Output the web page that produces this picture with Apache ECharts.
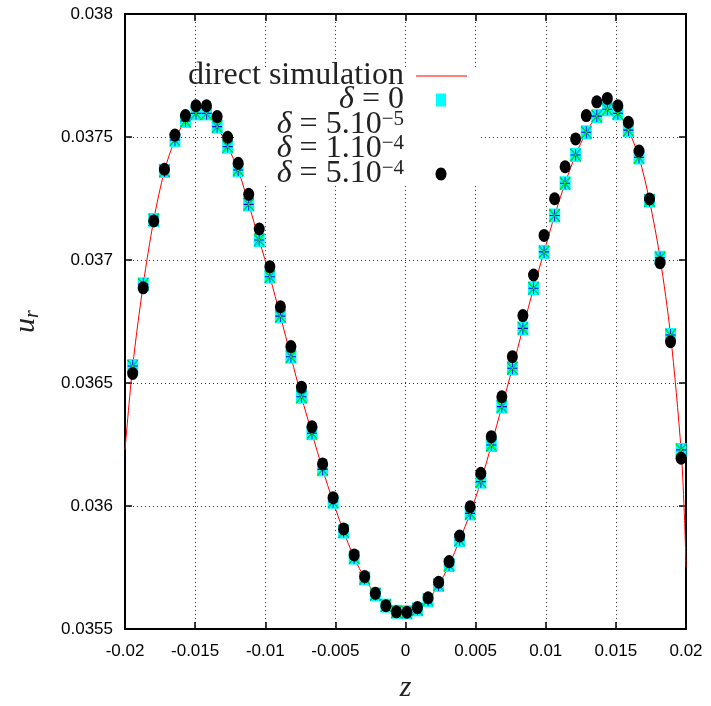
<!DOCTYPE html>
<html>
<head>
<meta charset="utf-8">
<script src="https://cdn.jsdelivr.net/npm/echarts@6/dist/echarts.min.js"></script>
<style>
  html, body { margin: 0; padding: 0; background: #fff; }
  #chart { width: 711px; height: 706px; }
</style>
</head>
<body>
<div id="chart"></div>
<script>
// Axial positions of the sampled points
const z = [-0.01945, -0.01870, -0.01795, -0.01719, -0.01644, -0.01569, -0.01494, -0.01419, -0.01343, -0.01268,
  -0.01193, -0.01118, -0.01043, -0.00967, -0.00892, -0.00817, -0.00742, -0.00667, -0.00591, -0.00516,
  -0.00441, -0.00366, -0.00291, -0.00215, -0.00140, -0.00065, 0.00010, 0.00085, 0.00161, 0.00236,
  0.00311, 0.00386, 0.00461, 0.00537, 0.00612, 0.00687, 0.00762, 0.00837, 0.00913, 0.00988,
  0.01063, 0.01138, 0.01213, 0.01289, 0.01364, 0.01439, 0.01514, 0.01589, 0.01665, 0.01740,
  0.01815, 0.01890, 0.01965];

// u_r for delta = 0
const delta0 = [0.036569, 0.036901, 0.037163, 0.037362, 0.037488, 0.037565, 0.037596, 0.037596, 0.037542, 0.037461,
  0.037366, 0.037226, 0.037081, 0.036932, 0.036772, 0.036607, 0.036444, 0.036296, 0.036149, 0.036017,
  0.035896, 0.035790, 0.035706, 0.035641, 0.035595, 0.035570, 0.035568, 0.035580, 0.035618, 0.035679,
  0.035760, 0.035862, 0.035970, 0.036099, 0.036248, 0.036404, 0.036560, 0.036722, 0.036885, 0.037033,
  0.037181, 0.037312, 0.037427, 0.037519, 0.037585, 0.037613, 0.037596, 0.037528, 0.037417, 0.037241,
  0.037009, 0.036695, 0.036228];

// u_r for delta = 5e-5
const delta5e5 = [0.036569, 0.036901, 0.037163, 0.037362, 0.037488, 0.037565, 0.037596, 0.037596, 0.037542, 0.037461,
  0.037366, 0.037226, 0.037081, 0.036932, 0.036772, 0.036607, 0.036444, 0.036296, 0.036149, 0.036017,
  0.035896, 0.035790, 0.035706, 0.035641, 0.035595, 0.035570, 0.035568, 0.035580, 0.035618, 0.035679,
  0.035760, 0.035862, 0.035970, 0.036099, 0.036248, 0.036404, 0.036560, 0.036722, 0.036885, 0.037033,
  0.037181, 0.037312, 0.037427, 0.037519, 0.037585, 0.037613, 0.037596, 0.037528, 0.037417, 0.037241,
  0.037009, 0.036695, 0.036228];

// u_r for delta = 1e-4
const delta1e4 = [0.036569, 0.036901, 0.037163, 0.037362, 0.037488, 0.037565, 0.037596, 0.037596, 0.037542, 0.037461,
  0.037366, 0.037226, 0.037081, 0.036932, 0.036772, 0.036607, 0.036444, 0.036296, 0.036149, 0.036017,
  0.035896, 0.035790, 0.035706, 0.035641, 0.035595, 0.035570, 0.035568, 0.035580, 0.035618, 0.035679,
  0.035760, 0.035862, 0.035970, 0.036099, 0.036248, 0.036404, 0.036560, 0.036722, 0.036885, 0.037033,
  0.037181, 0.037312, 0.037427, 0.037519, 0.037585, 0.037613, 0.037596, 0.037528, 0.037417, 0.037241,
  0.037009, 0.036695, 0.036228];

// u_r for delta = 5e-4
const delta5e4 = [0.036539, 0.036887, 0.037159, 0.037369, 0.037508, 0.037587, 0.037627, 0.037627, 0.037583, 0.037499,
  0.037393, 0.037267, 0.037126, 0.036973, 0.036810, 0.036648, 0.036483, 0.036322, 0.036171, 0.036034,
  0.035907, 0.035801, 0.035713, 0.035645, 0.035595, 0.035570, 0.035568, 0.035587, 0.035627, 0.035690,
  0.035774, 0.035878, 0.035997, 0.036133, 0.036282, 0.036444, 0.036607, 0.036774, 0.036939, 0.037100,
  0.037249, 0.037379, 0.037492, 0.037587, 0.037643, 0.037657, 0.037627, 0.037560, 0.037443, 0.037248,
  0.036989, 0.036668, 0.036194];

// Direct simulation curve (sample positions include both walls)
const directZ = [-0.02, ...z, 0.0199, 0.02];
const directU = [0.036228,
  0.036569, 0.036901, 0.037163, 0.037362, 0.037488, 0.037565, 0.037596, 0.037596, 0.037542, 0.037461,
  0.037366, 0.037226, 0.037081, 0.036932, 0.036772, 0.036607, 0.036444, 0.036296, 0.036149, 0.036017,
  0.035896, 0.035790, 0.035706, 0.035641, 0.035595, 0.035570, 0.035568, 0.035580, 0.035618, 0.035679,
  0.035760, 0.035862, 0.035970, 0.036099, 0.036248, 0.036404, 0.036560, 0.036722, 0.036885, 0.037033,
  0.037181, 0.037312, 0.037427, 0.037519, 0.037585, 0.037613, 0.037596, 0.037528, 0.037417, 0.037241,
  0.037009, 0.036695, 0.036228,
  0.035940, 0.035750];

// Tick labels
const xTickLabels = ['-0.02', '-0.015', '-0.01', '-0.005', '0', '0.005', '0.01', '0.015', '0.02'];
const yTickLabels = ['0.0355', '0.036', '0.0365', '0.037', '0.0375', '0.038'];

const pair = (xs, ys) => xs.map((x, i) => [x, ys[i]]);

const STAR = 'path://M0,6L10,6M5,0L5,12M0,0L10,12M10,0L0,12';
const CROSS = 'path://M0,0L10,12M10,0L0,12';

const tickFont = { fontFamily: 'Liberation Sans', fontSize: 17, color: '#000' };
const frameLine = { show: true, onZero: false, lineStyle: { color: '#000', width: 2 } };
const innerTick = { show: true, inside: true, length: 7, lineStyle: { color: '#000', width: 1.5 } };
const dotted = { show: true, lineStyle: { color: '#333', type: [1, 3], width: 1 } };

const serif = 'Liberation Serif';
const legendRich = {
  i: { fontFamily: serif, fontStyle: 'italic', fontSize: 32, fill: '#222' },
  n: { fontFamily: serif, fontSize: 32, fill: '#222', lineHeight: 32 },
  s: { fontFamily: serif, fontSize: 21, fill: '#222', verticalAlign: 'top', lineHeight: 18 }
};

function legendText(text, y) {
  return {
    type: 'text', x: 404, y: y, z: 3, silent: true,
    style: { text: text, rich: legendRich, align: 'right', verticalAlign: 'middle',
             fontFamily: serif, fontSize: 32, fill: '#222' }
  };
}

const kx = 441;
const legendGraphics = [
  { type: 'rect', z: 1, silent: true, shape: { x: 236, y: 67, width: 242, height: 118 },
    style: { fill: '#fff' } },
  legendText('{n|direct simulation}', 76),
  legendText('{i|δ}{n| = 0}', 100),
  legendText('{i|δ}{n| = 5.10}{s|−5}', 125),
  legendText('{i|δ}{n| = 1.10}{s|−4}', 149),
  legendText('{i|δ}{n| = 5.10}{s|−4}', 174),
  { type: 'line', z: 3, silent: true, shape: { x1: 416, y1: 76, x2: 467, y2: 76 },
    style: { stroke: '#ff0000', lineWidth: 1 } },
  { type: 'rect', z: 3, silent: true, shape: { x: kx - 5, y: 100 - 6.5, width: 10, height: 13 },
    style: { fill: '#00ffff' } },
  { type: 'group', z: 3, silent: true, children: [
    { type: 'line', shape: { x1: kx - 5, y1: 125, x2: kx + 5, y2: 125 }, style: { stroke: '#0000ff', lineWidth: 1 } },
    { type: 'line', shape: { x1: kx, y1: 119, x2: kx, y2: 131 }, style: { stroke: '#0000ff', lineWidth: 1 } },
    { type: 'line', shape: { x1: kx - 5, y1: 119, x2: kx + 5, y2: 131 }, style: { stroke: '#0000ff', lineWidth: 1 } },
    { type: 'line', shape: { x1: kx + 5, y1: 119, x2: kx - 5, y2: 131 }, style: { stroke: '#0000ff', lineWidth: 1 } }
  ] },
  { type: 'group', z: 3, silent: true, children: [
    { type: 'line', shape: { x1: kx - 5, y1: 143, x2: kx + 5, y2: 155 }, style: { stroke: '#00ff00', lineWidth: 1 } },
    { type: 'line', shape: { x1: kx + 5, y1: 143, x2: kx - 5, y2: 155 }, style: { stroke: '#00ff00', lineWidth: 1 } }
  ] },
  { type: 'ellipse', z: 3, silent: true, shape: { cx: kx, cy: 174, rx: 5.5, ry: 6.5 }, style: { fill: '#000' } }
];

const chart = echarts.init(document.getElementById('chart'), null, { renderer: 'canvas' });

chart.setOption({
  animation: false,
  backgroundColor: '#fff',
  grid: { left: 125, right: 25, top: 14, bottom: 77, containLabel: false, outerBoundsMode: 'none' },
  xAxis: [
    {
      type: 'value', min: -0.02, max: 0.02, interval: 0.005, position: 'bottom', z: 0,
      axisLine: frameLine, axisTick: innerTick, splitLine: dotted,
      axisLabel: Object.assign({ margin: 14,
        formatter: v => xTickLabels[Math.round((v + 0.02) / 0.005)] }, tickFont),
      name: 'z', nameLocation: 'middle', nameGap: 44,
      nameTextStyle: { fontFamily: serif, fontStyle: 'italic', fontSize: 30, color: '#222' }
    },
    {
      type: 'value', min: -0.02, max: 0.02, interval: 0.005, position: 'top', z: 0,
      axisLine: frameLine, axisTick: innerTick, axisLabel: { show: false }, splitLine: { show: false }
    }
  ],
  yAxis: [
    {
      type: 'value', min: 0.0355, max: 0.038, interval: 0.0005, position: 'left', z: 0,
      axisLine: frameLine, axisTick: innerTick, splitLine: dotted,
      axisLabel: Object.assign({ margin: 12,
        formatter: v => yTickLabels[Math.round((v - 0.0355) / 0.0005)] }, tickFont),
      name: '{u|u}{r|r}', nameLocation: 'middle', nameGap: 82, nameRotate: 90,
      nameTextStyle: {
        rich: {
          u: { fontFamily: serif, fontStyle: 'italic', fontSize: 30, color: '#222', lineHeight: 34 },
          r: { fontFamily: serif, fontStyle: 'italic', fontSize: 20, color: '#222', lineHeight: 18, verticalAlign: 'bottom' }
        }
      }
    },
    {
      type: 'value', min: 0.0355, max: 0.038, interval: 0.0005, position: 'right', z: 0,
      axisLine: frameLine, axisTick: innerTick, axisLabel: { show: false }, splitLine: { show: false }
    }
  ],
  graphic: legendGraphics,
  series: [
    {
      name: 'direct simulation', type: 'line', data: pair(directZ, directU),
      showSymbol: false, smooth: 0.3, silent: true, z: 2,
      lineStyle: { color: '#ff0000', width: 1 }
    },
    {
      name: 'δ = 0', type: 'scatter', data: pair(z, delta0), silent: true, z: 2,
      symbol: 'rect', symbolSize: [11, 14], itemStyle: { color: '#00ffff', opacity: 1 }
    },
    {
      name: 'δ = 5.10^-5', type: 'scatter', data: pair(z, delta5e5), silent: true, z: 2,
      symbol: STAR, symbolSize: [10, 12],
      itemStyle: { color: 'rgba(0,0,0,0)', borderColor: '#0000ff', borderWidth: 1, opacity: 1 }
    },
    {
      name: 'δ = 1.10^-4', type: 'scatter', data: pair(z, delta1e4), silent: true, z: 2,
      symbol: CROSS, symbolSize: [10, 12],
      itemStyle: { color: 'rgba(0,0,0,0)', borderColor: '#00ff00', borderWidth: 1, opacity: 1 }
    },
    {
      name: 'δ = 5.10^-4', type: 'scatter', data: pair(z, delta5e4), silent: true, z: 2,
      symbol: 'circle', symbolSize: [11, 13], itemStyle: { color: '#000', opacity: 1 }
    }
  ]
});
</script>
</body>
</html>
